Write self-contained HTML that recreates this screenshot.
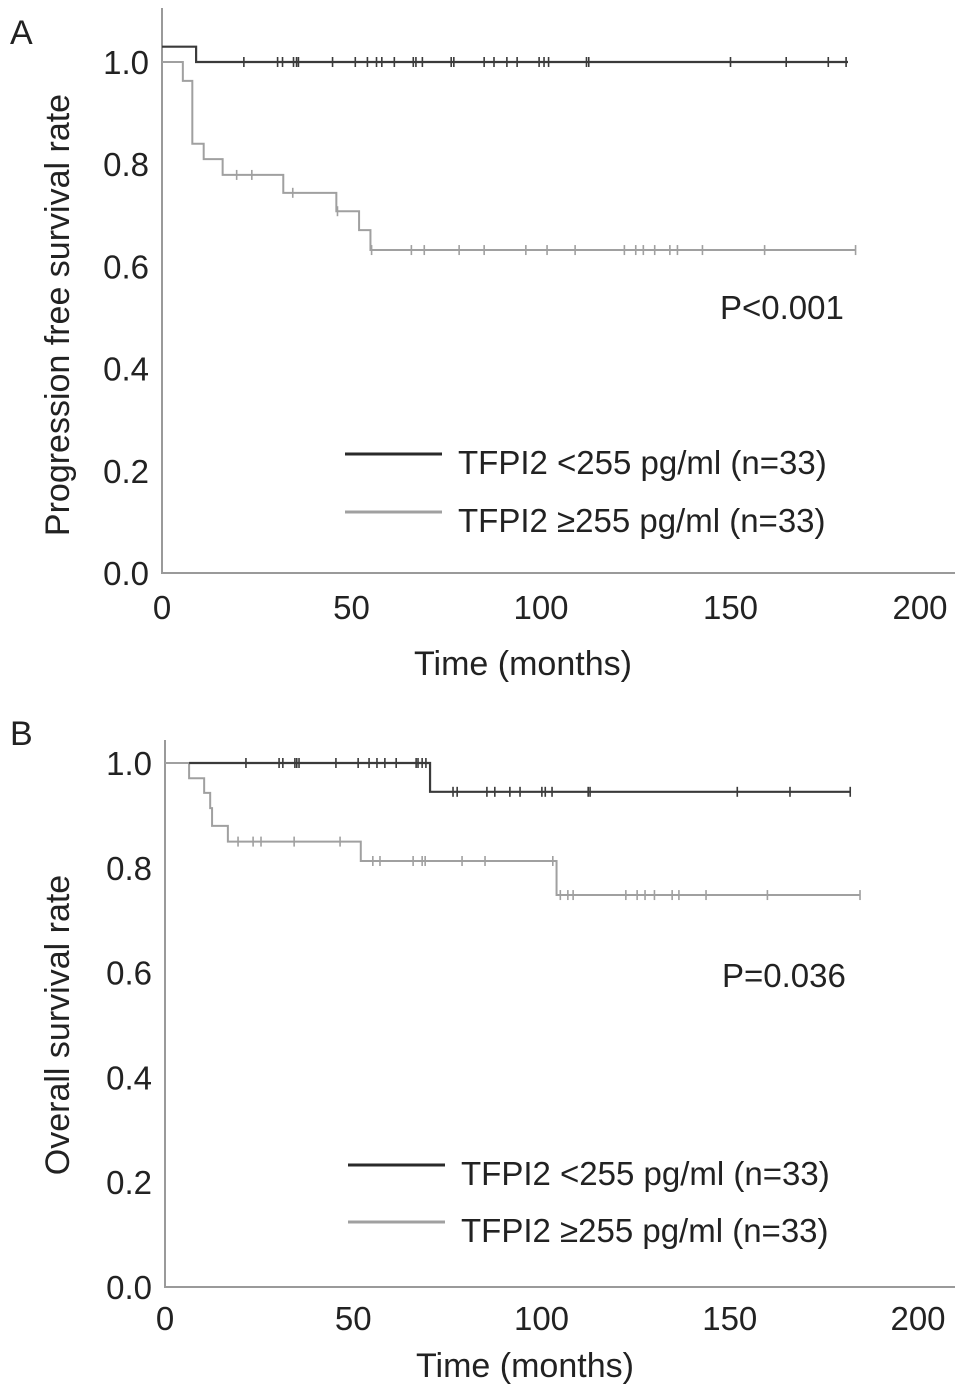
<!DOCTYPE html>
<html><head><meta charset="utf-8">
<style>
body{margin:0;background:#fff;}
svg{display:block;font-family:"Liberation Sans",Arial,sans-serif;}
text{fill:#222;}
</style></head>
<body>
<svg id="fig" width="969" height="1398" viewBox="0 0 969 1398"></svg>
<script>
// ---------- Data ----------
const xTicks = [0, 50, 100, 150, 200];
const yTicks = [0.0, 0.2, 0.4, 0.6, 0.8, 1.0];
const yTickLabels = ["0.0","0.2","0.4","0.6","0.8","1.0"];

// Panel A (PFS)
const aLowTimes = [0, 9];
const aLowVals = [1.03, 1.0];
const aLowEnd = 181;
const aLowCensor = [21.6,30.5,31.8,34.7,35.5,36,45,51,54.2,56.6,58,61.3,66.3,67,68.7,76.3,77,85,87.6,91,93.7,99.5,100.8,102,112,112.6,150,164.7,175.8,180.5];
const aHighTimes = [0, 5.5, 8, 11, 16, 32, 46, 52, 55];
const aHighVals = [1.0, 0.963, 0.84, 0.81, 0.779, 0.744, 0.708, 0.671, 0.632];
const aHighEnd = 183;
const aHighCensor = [19.7,23.7,34.5,46.3,55.3,65.8,69.2,78.4,85,96,101.6,109,122,125,127,130,134,136,142.6,159,183];

// Panel B (OS)
const bLowTimes = [6.4, 70.4];
const bLowVals = [1.0, 0.945];
const bLowEnd = 182;
const bLowCensor = [21.5,30.3,31.3,34.5,35,35.6,45.4,51.3,54.2,56.3,58.4,61.4,66.7,67.2,68.3,69.3,76.5,77.6,85.5,87.6,91.6,94.3,100.1,101,102.8,112.4,112.9,152,166,182];
const bHighTimes = [0, 6.4, 10.4, 12, 12.5, 16.7, 52, 104];
const bHighVals = [1.0, 0.971, 0.943, 0.914, 0.88, 0.85, 0.813, 0.748];
const bHighEnd = 184.6;
const bHighCensor = [19.4,23.4,25.5,34.3,46.5,55.2,57.1,65.9,68.3,69.1,78.9,85,103,105,107,108.4,122.4,125.4,127.5,130,134.7,136.5,143.7,160,184.6];

const NS = "http://www.w3.org/2000/svg";
const svg = document.getElementById('fig');
function mk(tag, attrs, parent, txt){
  const e = document.createElementNS(NS, tag);
  for (const k in attrs) e.setAttribute(k, attrs[k]);
  if (txt !== undefined) e.textContent = txt;
  (parent||svg).appendChild(e);
  return e;
}
const FS = 33;

function panel(p){
  const g = mk('g', {});
  
  
  const xs = m => p.x0 + m * (p.x200 - p.x0) / 200;
  const ys = v => p.y0 - v * (p.y0 - p.y1);
  const L = mk('text', {x: 10, y: p.letterY, 'font-size': 34}, g, p.letter);
  
  
  const ax = mk('path', {d: `M${p.x0} ${p.axisTop} L${p.x0} ${p.y0} L${p.xEnd} ${p.y0}`, fill:'none', stroke:'#9a9a9a', 'stroke-width': 2}, g);
  
  
  yTicks.forEach((v,i)=>{
    const t = mk('text', {x: p.x0 - 13, y: ys(v) + 12, 'font-size': FS, 'text-anchor':'end'}, g, yTickLabels[i]);
    
    
  });
  xTicks.forEach(m=>{
    const t = mk('text', {x: xs(m), y: p.y0 + p.xlabOff, 'font-size': FS, 'text-anchor':'middle'}, g, String(m));
    
    
  });
  const xt = mk('text', {x: p.xTitleX, y: p.y0 + p.xTitleOff, 'font-size': 34, 'text-anchor':'middle'}, g, 'Time (months)');
  
  
  const yt = mk('text', {x: 0, y: 0, 'font-size': 34, 'text-anchor':'middle', transform:`translate(69 ${p.yTitleY}) rotate(-90)`}, g, p.ytitle);
  
  

  function series(times, vals, end, censor, color, w, nm){
    let d = `M${xs(times[0])} ${ys(vals[0])}`;
    for (let i=1;i<times.length;i++){
      d += ` L${xs(times[i])} ${ys(vals[i-1])} L${xs(times[i])} ${ys(vals[i])}`;
    }
    d += ` L${xs(end)} ${ys(vals[vals.length-1])}`;
    const path = mk('path', {d, fill:'none', stroke: color, 'stroke-width': w}, g);
    
    
    censor.forEach(m=>{
      let v = vals[0];
      for (let i=0;i<times.length;i++) if (times[i] <= m) v = vals[i];
      const c = mk('line', {x1: xs(m), x2: xs(m), y1: ys(v)-5, y2: ys(v)+5, stroke: color, 'stroke-width': 1.6}, g);
      
      
    });
  }
  series(p.hT, p.hV, p.hE, p.hC, '#a0a0a0', 2, 'high-tfpi2');
  series(p.lT, p.lV, p.lE, p.lC, '#3a3a3a', 2.2, 'low-tfpi2');

  const pv = mk('text', {x: p.pX, y: p.pY, 'font-size': FS}, g, p.ptext);
  
  

  const legs = [
    {y: p.leg1, color: '#2a2a2a', label: 'TFPI2 <255 pg/ml (n=33)', nm: 'legend-entry-low'},
    {y: p.leg2, color: '#a0a0a0', label: 'TFPI2 ≥255 pg/ml (n=33)', nm: 'legend-entry-high'}
  ];
  legs.forEach(l=>{
    const lg = mk('g', {}, g);
    
    
    mk('line', {x1: p.legX, x2: p.legX + 97, y1: l.y, y2: l.y, stroke: l.color, 'stroke-width': 3}, lg);
    mk('text', {x: p.legX + 113, y: l.y + 20, 'font-size': FS}, lg, l.label);
  });
}

panel({name:'panel-a-pfs', letter:'A', letterY:44, x0:162, x200:920, xEnd:955, y0:573, y1:62, axisTop:8,
  ytitle:'Progression free survival rate', yTitleY:315, xTitleX:523, xlabOff:46, xTitleOff:102,
  lT:aLowTimes, lV:aLowVals, lE:aLowEnd, lC:aLowCensor,
  hT:aHighTimes, hV:aHighVals, hE:aHighEnd, hC:aHighCensor,
  pX:720, pY:319, ptext:'P<0.001', legX:345, leg1:454, leg2:512});
panel({name:'panel-b-os', letter:'B', letterY:745, x0:165, x200:918, xEnd:955, y0:1287, y1:763, axisTop:740,
  ytitle:'Overall survival rate', yTitleY:1025, xTitleX:525, xlabOff:43, xTitleOff:90,
  lT:bLowTimes, lV:bLowVals, lE:bLowEnd, lC:bLowCensor,
  hT:bHighTimes, hV:bHighVals, hE:bHighEnd, hC:bHighCensor,
  pX:722, pY:987, ptext:'P=0.036', legX:348, leg1:1165, leg2:1222});
</script>
</body></html>
